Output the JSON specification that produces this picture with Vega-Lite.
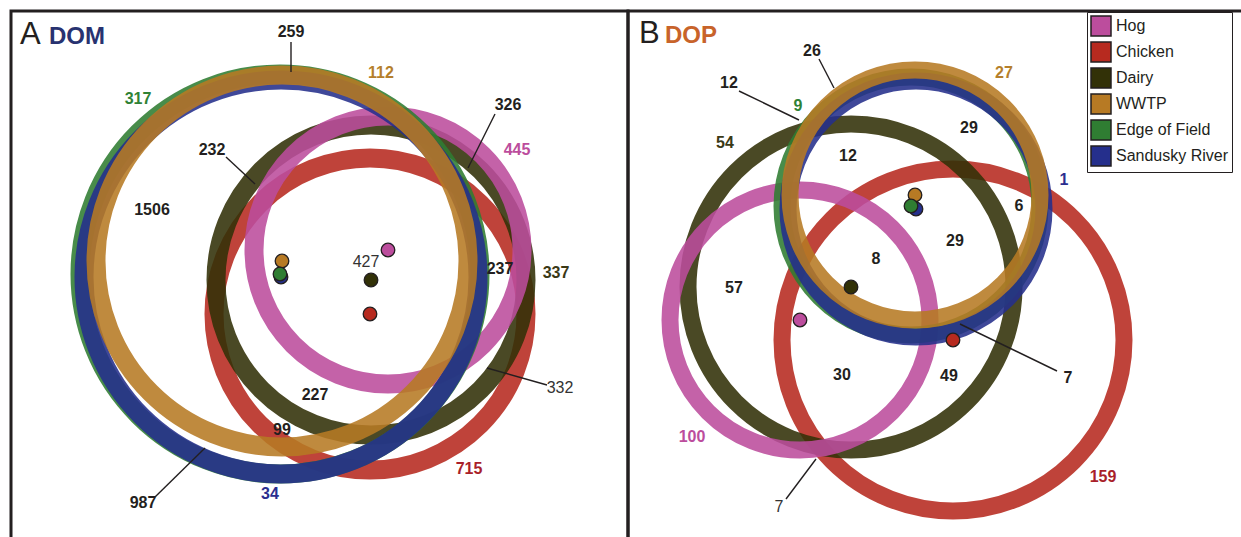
{
"$schema": "https://vega.github.io/schema/vega-lite/v6.json",
"background": "#ffffff",
"padding": {"left": 9, "top": 9, "right": 0, "bottom": 0},
"spacing": 0,
"bounds": "flush",
"config": {"view": {"stroke": "#231f20", "strokeWidth": 3}},
"resolve": {"scale": {"x": "independent", "y": "independent", "size": "independent", "fill": "independent", "stroke": "independent", "color": "independent"}, "legend": {"fill": "independent", "stroke": "independent", "color": "independent", "size": "independent"}},
"datasets": {
 "circlesA": [
  {"set": "Chicken", "x": 368, "y": 312, "r": 156},
  {"set": "Dairy", "x": 369, "y": 278, "r": 155},
  {"set": "Hog", "x": 386, "y": 248, "r": 134},
  {"set": "Edge of Field", "x": 278, "y": 272, "r": 200},
  {"set": "Sandusky River", "x": 279, "y": 275, "r": 197},
  {"set": "WWTP", "x": 280, "y": 259, "r": 186}
 ],
 "circlesB": [
  {"set": "Chicken", "x": 951, "y": 338, "r": 171},
  {"set": "Dairy", "x": 849, "y": 285, "r": 163},
  {"set": "Hog", "x": 798, "y": 318, "r": 130},
  {"set": "Edge of Field", "x": 909, "y": 204, "r": 129},
  {"set": "Sandusky River", "x": 914, "y": 207, "r": 128},
  {"set": "WWTP", "x": 913, "y": 193, "r": 125}
 ],
 "countsA": [
  {"label": "259", "x": 289, "y": 30, "set": null},
  {"label": "232", "x": 210, "y": 148, "set": null},
  {"label": "326", "x": 506, "y": 103, "set": null},
  {"label": "1506", "x": 150, "y": 208, "set": null},
  {"label": "237", "x": 498, "y": 267, "set": null},
  {"label": "227", "x": 313, "y": 393, "set": null},
  {"label": "99", "x": 280, "y": 428, "set": null},
  {"label": "987", "x": 141, "y": 501, "set": null},
  {"label": "317", "x": 136, "y": 97, "set": "Edge of Field"},
  {"label": "112", "x": 379, "y": 71, "set": "WWTP"},
  {"label": "445", "x": 515, "y": 148, "set": "Hog"},
  {"label": "337", "x": 554, "y": 271, "set": "Dairy"},
  {"label": "715", "x": 467, "y": 467, "set": "Chicken"},
  {"label": "34", "x": 268, "y": 492, "set": "Sandusky River"}
 ],
 "thinA": [
  {"label": "427", "x": 364, "y": 260},
  {"label": "332", "x": 558, "y": 386}
 ],
 "linesA": [
  {"x": 289, "y": 40, "x2": 289, "y2": 70},
  {"x": 224, "y": 155, "x2": 253, "y2": 182},
  {"x": 493, "y": 112, "x2": 466, "y2": 166},
  {"x": 545, "y": 383, "x2": 485, "y2": 366},
  {"x": 153, "y": 495, "x2": 203, "y2": 446}
 ],
 "titleA": [
  {"text": "A", "part": "letter", "x": 18, "y": 42},
  {"text": "DOM", "part": "name", "x": 47, "y": 42}
 ],
 "countsB": [
  {"label": "26", "x": 810, "y": 49, "set": null},
  {"label": "12", "x": 727, "y": 81, "set": null},
  {"label": "12", "x": 846, "y": 154, "set": null},
  {"label": "29", "x": 967, "y": 126, "set": null},
  {"label": "6", "x": 1017, "y": 204, "set": null},
  {"label": "29", "x": 953, "y": 239, "set": null},
  {"label": "8", "x": 874, "y": 257, "set": null},
  {"label": "57", "x": 732, "y": 286, "set": null},
  {"label": "30", "x": 840, "y": 373, "set": null},
  {"label": "49", "x": 947, "y": 374, "set": null},
  {"label": "7", "x": 1066, "y": 376, "set": null},
  {"label": "9", "x": 796, "y": 104, "set": "Edge of Field"},
  {"label": "54", "x": 723, "y": 141, "set": "Dairy"},
  {"label": "27", "x": 1002, "y": 71, "set": "WWTP"},
  {"label": "1", "x": 1062, "y": 178, "set": "Sandusky River"},
  {"label": "100", "x": 690, "y": 435, "set": "Hog"},
  {"label": "159", "x": 1101, "y": 475, "set": "Chicken"}
 ],
 "thinB": [
  {"label": "7", "x": 777, "y": 505}
 ],
 "linesB": [
  {"x": 817, "y": 57, "x2": 832, "y2": 86},
  {"x": 737, "y": 89, "x2": 797, "y2": 118},
  {"x": 1055, "y": 369, "x2": 958, "y2": 322},
  {"x": 784, "y": 497, "x2": 814, "y2": 457}
 ],
 "titleB": [
  {"text": "B", "part": "letter", "x": 637, "y": 41},
  {"text": "DOP", "part": "name", "x": 663, "y": 41}
 ]
},
"hconcat": [
 {
  "width": 617, "height": 540,
  "encoding": {
   "x": {"field": "x", "type": "quantitative", "scale": {"domain": [9, 626], "nice": false, "zero": false}, "axis": null},
   "y": {"field": "y", "type": "quantitative", "scale": {"domain": [9, 549], "nice": false, "zero": false, "reverse": true}, "axis": null}
  },
  "layer": [
   {"data": {"name": "circlesA"},
    "mark": {"type": "point", "shape": "circle", "filled": false, "strokeWidth": 19, "opacity": 0.88},
    "encoding": {
     "stroke": {"field": "set", "type": "nominal", "scale": {"domain": ["Chicken", "Dairy", "Hog", "Edge of Field", "Sandusky River", "WWTP"], "range": ["#b72a1f", "#323107", "#bc4d9d", "#2f7d32", "#252f8c", "#b77a24"]}, "legend": null},
     "size": {"field": "r", "type": "quantitative", "scale": {"type": "pow", "exponent": 2, "domain": [0, 100], "range": [0, 40000]}, "legend": null}
    }},
   {"data": {"name": "linesA"},
    "mark": {"type": "rule", "stroke": "#231f20", "strokeWidth": 1.4},
    "encoding": {"x2": {"field": "x2"}, "y2": {"field": "y2"}}},
   {"data": {"name": "circlesA"},
    "mark": {"type": "point", "shape": "circle", "filled": true, "size": 185, "stroke": "#231f20", "strokeWidth": 1.3, "opacity": 1},
    "encoding": {
     "fill": {"field": "set", "type": "nominal", "scale": {"domain": ["Hog", "Chicken", "Dairy", "WWTP", "Edge of Field", "Sandusky River"], "range": ["#bc4d9d", "#b72a1f", "#323107", "#b77a24", "#2f7d32", "#252f8c"]}, "legend": null},
     "order": {"field": "set", "sort": "descending"}
    }},
   {"data": {"name": "countsA"}, "transform": [{"filter": "datum.set == null"}],
    "mark": {"type": "text", "font": "Liberation Sans, Arial, sans-serif", "fontSize": 16, "fontWeight": "bold", "fill": "#231f20", "align": "center", "baseline": "middle"},
    "encoding": {"text": {"field": "label"}}},
   {"data": {"name": "countsA"}, "transform": [{"filter": "datum.set != null"}],
    "mark": {"type": "text", "font": "Liberation Sans, Arial, sans-serif", "fontSize": 16, "fontWeight": "bold", "align": "center", "baseline": "middle"},
    "encoding": {"text": {"field": "label"},
     "color": {"field": "set", "type": "nominal", "scale": {"domain": ["Sandusky River", "Edge of Field", "WWTP", "Dairy", "Chicken", "Hog"], "range": ["#2b2e8f", "#2f8235", "#b57f2c", "#3a3916", "#a91f2a", "#bc4d9d"]}, "legend": null}}},
   {"data": {"name": "thinA"},
    "mark": {"type": "text", "font": "Liberation Sans, Arial, sans-serif", "fontSize": 16, "fontWeight": "normal", "fill": "#333333", "align": "center", "baseline": "middle"},
    "encoding": {"text": {"field": "label"}}},
   {"data": {"name": "titleA"}, "transform": [{"filter": "datum.part == 'letter'"}],
    "mark": {"type": "text", "font": "Liberation Sans, Arial, sans-serif", "fontSize": 31, "fill": "#231f20", "align": "left", "baseline": "alphabetic"},
    "encoding": {"text": {"field": "text"}}},
   {"data": {"name": "titleA"}, "transform": [{"filter": "datum.part == 'name'"}],
    "mark": {"type": "text", "font": "Liberation Sans, Arial, sans-serif", "fontSize": 24, "fontWeight": "bold", "fill": "#283270", "align": "left", "baseline": "alphabetic"},
    "encoding": {"text": {"field": "text"}}}
  ]
 },
 {
  "width": 620, "height": 540,
  "encoding": {
   "x": {"field": "x", "type": "quantitative", "scale": {"domain": [626, 1246], "nice": false, "zero": false}, "axis": null},
   "y": {"field": "y", "type": "quantitative", "scale": {"domain": [9, 549], "nice": false, "zero": false, "reverse": true}, "axis": null}
  },
  "layer": [
   {"data": {"name": "circlesB"},
    "mark": {"type": "point", "shape": "circle", "filled": false, "strokeWidth": 17, "opacity": 0.88},
    "encoding": {
     "stroke": {"field": "set", "type": "nominal", "scale": {"domain": ["Chicken", "Dairy", "Hog", "Edge of Field", "Sandusky River", "WWTP"], "range": ["#b72a1f", "#323107", "#bc4d9d", "#2f7d32", "#252f8c", "#b77a24"]}, "legend": null},
     "size": {"field": "r", "type": "quantitative", "scale": {"type": "pow", "exponent": 2, "domain": [0, 100], "range": [0, 40000]}, "legend": null}
    }},
   {"data": {"name": "linesB"},
    "mark": {"type": "rule", "stroke": "#231f20", "strokeWidth": 1.4},
    "encoding": {"x2": {"field": "x2"}, "y2": {"field": "y2"}}},
   {"data": {"name": "circlesB"},
    "mark": {"type": "point", "shape": "circle", "filled": true, "size": 185, "stroke": "#231f20", "strokeWidth": 1.3, "opacity": 1},
    "encoding": {
     "fill": {"field": "set", "type": "nominal", "scale": {"domain": ["Hog", "Chicken", "Dairy", "WWTP", "Edge of Field", "Sandusky River"], "range": ["#bc4d9d", "#b72a1f", "#323107", "#b77a24", "#2f7d32", "#252f8c"]},
      "legend": {"title": null, "orient": "none", "legendX": 459, "legendY": 1, "symbolType": "square", "symbolSize": 400, "labelFont": "Liberation Sans, Arial, sans-serif", "labelFontSize": 16, "labelColor": "#231f20", "labelOffset": 4, "padding": 3, "rowPadding": 0, "strokeColor": "#231f20", "fillColor": "#ffffff",
       "encode": {
        "legend": {"update": {"stroke": {"value": "#231f20"}, "strokeWidth": {"value": 2}, "fill": {"value": "#ffffff"}}},
        "symbols": {"update": {"stroke": {"value": "#ffffff"}, "strokeWidth": {"value": 1}, "shape": {"value": "square"}, "size": {"value": 529}, "opacity": {"value": 1}}}
       }}},
     "order": {"field": "set", "sort": "descending"}
    }},
   {"data": {"name": "countsB"}, "transform": [{"filter": "datum.set == null"}],
    "mark": {"type": "text", "font": "Liberation Sans, Arial, sans-serif", "fontSize": 16, "fontWeight": "bold", "fill": "#231f20", "align": "center", "baseline": "middle"},
    "encoding": {"text": {"field": "label"}}},
   {"data": {"name": "countsB"}, "transform": [{"filter": "datum.set != null"}],
    "mark": {"type": "text", "font": "Liberation Sans, Arial, sans-serif", "fontSize": 16, "fontWeight": "bold", "align": "center", "baseline": "middle"},
    "encoding": {"text": {"field": "label"},
     "color": {"field": "set", "type": "nominal", "scale": {"domain": ["Sandusky River", "Edge of Field", "WWTP", "Dairy", "Chicken", "Hog"], "range": ["#2b2e8f", "#2f8235", "#b57f2c", "#3a3916", "#a91f2a", "#bc4d9d"]}, "legend": null}}},
   {"data": {"name": "thinB"},
    "mark": {"type": "text", "font": "Liberation Sans, Arial, sans-serif", "fontSize": 16, "fontWeight": "normal", "fill": "#333333", "align": "center", "baseline": "middle"},
    "encoding": {"text": {"field": "label"}}},
   {"data": {"name": "titleB"}, "transform": [{"filter": "datum.part == 'letter'"}],
    "mark": {"type": "text", "font": "Liberation Sans, Arial, sans-serif", "fontSize": 31, "fill": "#231f20", "align": "left", "baseline": "alphabetic"},
    "encoding": {"text": {"field": "text"}}},
   {"data": {"name": "titleB"}, "transform": [{"filter": "datum.part == 'name'"}],
    "mark": {"type": "text", "font": "Liberation Sans, Arial, sans-serif", "fontSize": 24, "fontWeight": "bold", "fill": "#c8632a", "align": "left", "baseline": "alphabetic"},
    "encoding": {"text": {"field": "text"}}}
  ]
 }
]
}
